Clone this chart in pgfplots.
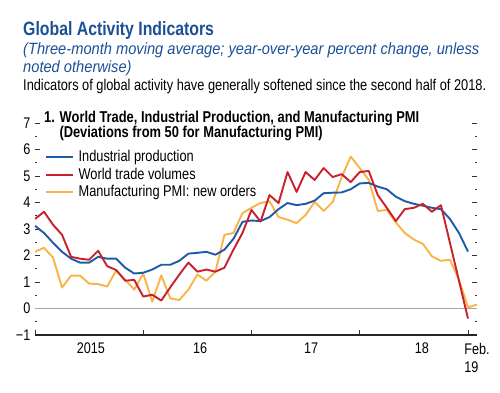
\documentclass[border=0pt]{standalone}
\usepackage{pgfplots}
\pgfplotsset{compat=1.18}
\usepackage{pgfplotstable}
\usepackage{fontspec}
\setmainfont{Liberation Sans}[FakeStretch=0.82]
\newfontfamily\subfont{Liberation Sans}[FakeStretch=0.9]

\definecolor{ipblue}{RGB}{30,90,168}
\definecolor{wtred}{RGB}{200,32,45}
\definecolor{pmiorange}{RGB}{249,180,72}
\definecolor{titleblue}{RGB}{28,80,150}

\pgfplotstableread{
m v
0 3.12
1 2.85
2 2.48
3 2.14
4 1.88
5 1.73
6 1.73
7 1.95
8 1.88
9 1.88
10 1.54
11 1.32
12 1.35
13 1.47
14 1.65
15 1.65
16 1.80
17 2.07
18 2.10
19 2.14
20 2.03
21 2.22
22 2.63
23 3.27
24 3.32
25 3.30
26 3.45
27 3.75
28 3.98
29 3.90
30 3.95
31 4.07
32 4.35
33 4.37
34 4.38
35 4.50
36 4.72
37 4.74
38 4.60
39 4.50
40 4.22
41 4.05
42 3.95
43 3.88
44 3.80
45 3.75
46 3.38
47 2.85
48 2.15
}\ip

\pgfplotstableread{
m v
0 3.38
1 3.65
2 3.16
3 2.78
4 1.95
5 1.88
6 1.84
7 2.18
8 1.60
9 1.45
10 1.05
11 1.08
12 0.45
13 0.52
14 0.30
15 0.80
16 1.28
17 1.73
18 1.39
19 1.47
20 1.39
21 1.54
22 2.22
23 2.85
24 3.72
25 3.28
26 4.28
27 3.98
28 5.15
29 4.40
30 5.15
31 4.85
32 5.30
33 4.96
34 5.07
35 4.77
36 5.15
37 5.19
38 4.28
39 3.80
40 3.30
41 3.75
42 3.80
43 3.95
44 3.65
45 3.90
46 2.48
47 1.05
48 -0.38
}\wt

\pgfplotstableread{
m v
0 2.14
1 2.29
2 1.92
3 0.79
4 1.24
5 1.24
6 0.94
7 0.92
8 0.83
9 1.44
10 1.09
11 0.71
12 1.32
13 0.26
14 1.25
15 0.38
16 0.32
17 0.71
18 1.28
19 1.05
20 1.39
21 2.78
22 2.85
23 3.60
24 3.80
25 3.98
26 4.05
27 3.45
28 3.35
29 3.22
30 3.53
31 4.02
32 3.68
33 4.02
34 4.96
35 5.73
36 5.30
37 4.85
38 3.68
39 3.72
40 3.25
41 2.85
42 2.60
43 2.44
44 1.97
45 1.80
46 1.84
47 1.09
48 0.04
49 0.15
}\pmi

\begin{document}
\begin{tikzpicture}[x=1pt,y=1pt]
\path[use as bounding box] (0pt,0pt) rectangle (500pt,-393pt);

\node[anchor=base west, inner sep=0pt, text=titleblue, font=\fontsize{19.3}{22}\selectfont\bfseries] at (23pt,-35.7pt) {Global Activity Indicators};
\node[anchor=base west, inner sep=0pt, text=titleblue, font=\subfont\itshape\fontsize{16.3}{18}\selectfont] at (23pt,-54.3pt) {(Three-month moving average; year-over-year percent change, unless};
\node[anchor=base west, inner sep=0pt, text=titleblue, font=\subfont\itshape\fontsize{16.3}{18}\selectfont] at (23pt,-72.3pt) {noted otherwise)};
\node[anchor=base west, inner sep=0pt, font=\fontsize{15.6}{18}\selectfont] at (23pt,-91pt) {Indicators of global activity have generally softened since the second half of 2018.};

\begin{axis}[
  at={(35pt,-335pt)}, anchor=south west,
  width=442pt, height=212pt, scale only axis,
  xmin=0, xmax=49, ymin=-1, ymax=7,
  axis line style={draw=none},
  xtick={0,12,24,36,48}, xticklabels={},
  xtick pos=bottom, ytick pos=both,
  tick align=inside,
  extra x ticks={6.2,18.3,30.6,42.9,49},
  extra x tick labels={2015,16,17,18,{Feb.\\19}},
  extra x tick style={major tick length=0pt},
  ytick={-1,0,...,7},
  yticklabels={−1,0,1,2,3,4,5,6,7},
  minor y tick num=1,
  major tick length=5pt, minor tick length=2pt,
  every tick/.style={black!80, line width=0.9pt},
  tick label style={font=\fontsize{15.4}{18}\selectfont, inner sep=0pt},
  yticklabel style={xshift=-4.5pt},
  xticklabel style={yshift=-8pt, align=left},
  legend style={at={(axis cs:1.11,6.04)}, anchor=north west, draw=none, fill=none,
    inner sep=0pt, outer sep=0pt, row sep=0pt,
    font=\fontsize{15.6}{18}\selectfont,
    nodes={inner sep=0pt, text height=13.35pt, text depth=4.15pt},
    /tikz/every odd column/.append style={column sep=5pt}},
  legend cell align=left,
  legend image code/.code={\draw[#1] (0pt,0pt) -- (26.7pt,0pt);},
]
\draw[gray!70, line width=0.9pt] (axis cs:0,0) -- (axis cs:49,0);
\draw[black!85, line width=1.3pt] (rel axis cs:0,0) -- (rel axis cs:1,0);
\addplot[pmiorange, line width=1.9pt, line join=round, forget plot] table[x=m,y=v] {\pmi};
\addplot[ipblue, line width=1.9pt, line join=round, forget plot] table[x=m,y=v] {\ip};
\addplot[wtred, line width=1.9pt, line join=round, forget plot] table[x=m,y=v] {\wt};
\addlegendimage{ipblue, line width=1.9pt}
\addlegendentry{Industrial production}
\addlegendimage{wtred, line width=1.9pt}
\addlegendentry{World trade volumes}
\addlegendimage{pmiorange, line width=1.9pt}
\addlegendentry{Manufacturing PMI: new orders}
\end{axis}

\node[anchor=base west, inner sep=0pt, font=\fontsize{15.7}{18}\selectfont\bfseries] at (44pt,-122.3pt) {1. World Trade, Industrial Production, and Manufacturing PMI};
\node[anchor=base west, inner sep=0pt, font=\fontsize{15.7}{18}\selectfont\bfseries] at (59.3pt,-137.7pt) {(Deviations from 50 for Manufacturing PMI)};
\end{tikzpicture}
\end{document}
